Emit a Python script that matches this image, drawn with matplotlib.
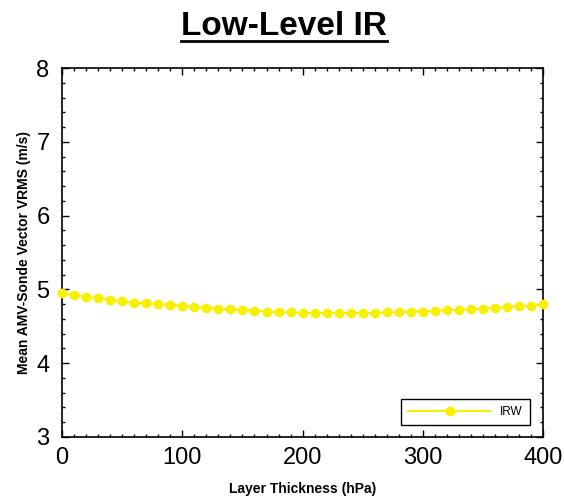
import numpy as np
import matplotlib.pyplot as plt
from matplotlib.lines import Line2D
from matplotlib.ticker import MultipleLocator

plt.rcParams['font.family'] = ['Liberation Sans', 'DejaVu Sans']

# layer thickness (hPa) and mean vector RMS (m/s)
thickness = list(range(0, 410, 10))
vrms = [4.95, 4.92, 4.90, 4.88, 4.86, 4.84, 4.82, 4.81, 4.80, 4.79,
        4.78, 4.76, 4.75, 4.74, 4.73, 4.72, 4.71, 4.70, 4.69, 4.69,
        4.68, 4.68, 4.68, 4.68, 4.68, 4.68, 4.68, 4.69, 4.69, 4.70,
        4.70, 4.71, 4.72, 4.72, 4.73, 4.74, 4.75, 4.76, 4.77, 4.78,
        4.80]

fig = plt.figure(figsize=(5.64, 5.01), dpi=100)
ax = fig.add_axes([0.110, 0.128, 0.853, 0.736])

ax.plot(thickness, vrms, color='#F7F000', lw=1.5, marker='o', ms=6,
        mec='#F7F000', mfc='#F7F000', label='IRW', clip_on=False, zorder=3)

ax.set_xlim(0, 400)
ax.set_ylim(3, 8)
ax.xaxis.set_major_locator(MultipleLocator(100))
ax.xaxis.set_minor_locator(MultipleLocator(10))
ax.yaxis.set_major_locator(MultipleLocator(1))
ax.yaxis.set_minor_locator(MultipleLocator(0.2))
ax.tick_params(which='both', direction='in', top=True, right=True, width=1)
ax.tick_params(which='major', length=5, labelsize=17)
ax.tick_params(which='minor', length=2.5)
ax.tick_params(axis='x', which='major', pad=7)
ax.tick_params(axis='y', which='major', pad=9)
for s in ax.spines.values():
    s.set_linewidth(1.2)

ax.set_xlabel('Layer Thickness (hPa)', fontsize=10, fontweight='bold', labelpad=10)
ax.set_ylabel('Mean AMV-Sonde Vector VRMS (m/s)', fontsize=10, fontweight='bold', labelpad=4)

leg = ax.legend(loc='lower right', fontsize=8.5, handlelength=7,
                fancybox=False, edgecolor='black', framealpha=1,
                borderpad=0.6, bbox_to_anchor=(0.985, 0.015))
leg.get_frame().set_linewidth(1.0)

# underlined title
title = fig.text(0.504, 0.948, 'Low-Level IR', ha='center', va='center',
                 fontsize=24, fontweight='bold')
fig.canvas.draw()
bb = title.get_window_extent().transformed(fig.transFigure.inverted())
uy = bb.y0 + 0.002
fig.add_artist(Line2D([bb.x0, bb.x1], [uy, uy], color='black', lw=2,
                      transform=fig.transFigure))

plt.savefig('out.png', dpi=100)
